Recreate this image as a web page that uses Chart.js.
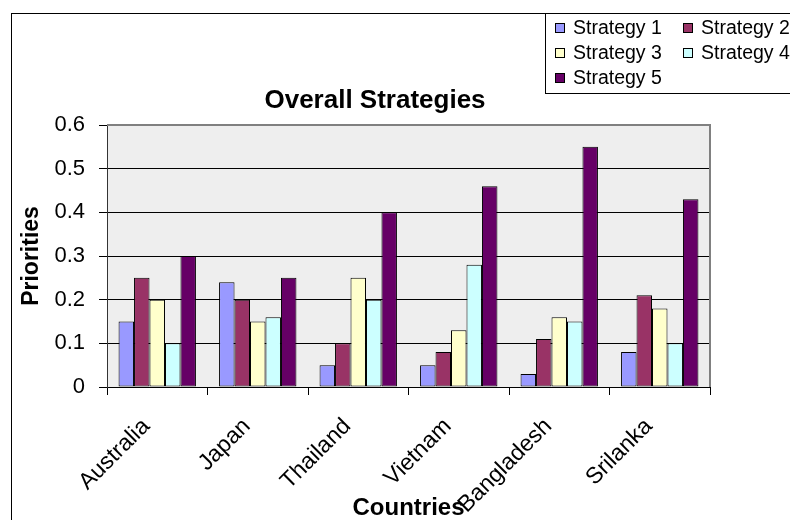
<!DOCTYPE html>
<html>
<head>
<meta charset="utf-8">
<script src="https://cdn.jsdelivr.net/npm/chart.js@4.4.1/dist/chart.umd.min.js"></script>
<style>
    html, body { margin: 0; padding: 0; background: #fff; }
</style>
</head>
<body>
<canvas id="chart" width="790" height="520"></canvas>
<script>
// data
var countries = ['Australia', 'Japan', 'Thailand', 'Vietnam', 'Bangladesh', 'Srilanka'];
var strategy1 = [0.15, 0.24, 0.05, 0.05, 0.03, 0.08];
var strategy2 = [0.25, 0.20, 0.10, 0.08, 0.11, 0.21];
var strategy3 = [0.20, 0.15, 0.25, 0.13, 0.16, 0.18];
var strategy4 = [0.10, 0.16, 0.20, 0.28, 0.15, 0.10];
var strategy5 = [0.30, 0.25, 0.40, 0.46, 0.55, 0.43];
var seriesNames = ['Strategy 1', 'Strategy 2', 'Strategy 3', 'Strategy 4', 'Strategy 5'];
var seriesColors = ['#9999FF', '#993366', '#FFFFCC', '#CCFFFF', '#660066'];
var yTicks = [0, 0.1, 0.2, 0.3, 0.4, 0.5, 0.6];

var FONT = "'Liberation Sans', Arial, sans-serif";
var allSeries = [strategy1, strategy2, strategy3, strategy4, strategy5];

var datasets = allSeries.map(function (values, i) {
    return {
        label: seriesNames[i],
        data: values,
        backgroundColor: seriesColors[i],
        borderColor: '#000',
        borderWidth: 1,
        borderSkipped: false,
        categoryPercentage: 0.77,
        barPercentage: 1.0
    };
});

// frame, plot background, title and the old-style legend box
var excelLook = {
    id: 'excelLook',
    beforeDraw: function (chart) {
        var ctx = chart.ctx, a = chart.chartArea;
        ctx.save();
        ctx.fillStyle = '#fff';
        ctx.fillRect(0, 0, chart.width, chart.height);
        ctx.strokeStyle = '#000';
        ctx.lineWidth = 1;
        ctx.strokeRect(11.5, 13.5, chart.width + 10, chart.height + 10);
        ctx.fillStyle = '#EEEEEE';
        ctx.fillRect(a.left, a.top, a.right - a.left, a.bottom - a.top);
        ctx.restore();
    },
    afterDraw: function (chart) {
        var ctx = chart.ctx, a = chart.chartArea;
        ctx.save();
        // plot border top / right
        ctx.strokeStyle = '#808080';
        ctx.lineWidth = 2;
        ctx.beginPath();
        ctx.moveTo(a.left, a.top);
        ctx.lineTo(a.right, a.top);
        ctx.lineTo(a.right, a.bottom);
        ctx.stroke();

        // title
        ctx.fillStyle = '#000';
        ctx.font = 'bold 26px ' + FONT;
        ctx.textAlign = 'center';
        ctx.textBaseline = 'middle';
        ctx.fillText('Overall Strategies', 375, 101);

        // legend
        ctx.fillStyle = '#fff';
        ctx.fillRect(545.5, 13.5, 260, 80);
        ctx.strokeStyle = '#000';
        ctx.lineWidth = 1;
        ctx.strokeRect(545.5, 13.5, 260, 80);
        ctx.font = '19.5px ' + FONT;
        ctx.textAlign = 'left';
        chart.data.datasets.forEach(function (ds, i) {
            var col = i % 2, row = Math.floor(i / 2);
            var x = col === 0 ? 555 : 683;
            var y = 28 + row * 25;
            ctx.fillStyle = ds.backgroundColor;
            ctx.fillRect(x + 0.5, y - 4.5, 9, 9);
            ctx.strokeRect(x + 0.5, y - 4.5, 9, 9);
            ctx.fillStyle = '#000';
            ctx.fillText(ds.label, x + 18, y + 1);
        });
        ctx.restore();
    }
};

new Chart(document.getElementById('chart'), {
    type: 'bar',
    data: {
        labels: countries,
        datasets: datasets
    },
    options: {
        responsive: false,
        animation: false,
        layout: {
            padding: { top: 125, right: 80, left: 0, bottom: 0 }
        },
        plugins: {
            legend: { display: false },
            title: { display: false },
            tooltip: { enabled: false }
        },
        scales: {
            x: {
                afterFit: function (scale) { scale.height = 133; },
                grid: {
                    drawOnChartArea: false,
                    drawTicks: true,
                    tickLength: 8,
                    color: '#000'
                },
                border: { display: true, color: '#000', width: 1 },
                ticks: {
                    autoSkip: false,
                    minRotation: 45,
                    maxRotation: 45,
                    padding: 18,
                    labelOffset: -11,
                    color: '#000',
                    font: { family: FONT, size: 23 }
                },
                title: {
                    display: true,
                    text: 'Countries',
                    color: '#000',
                    font: { family: FONT, size: 24, weight: 'bold' },
                    padding: { top: 0, bottom: -3 }
                }
            },
            y: {
                min: 0,
                max: 0.6,
                afterFit: function (scale) { scale.width = 107; },
                afterBuildTicks: function (scale) {
                    scale.ticks = yTicks.map(function (v) { return { value: v }; });
                },
                grid: {
                    color: '#000',
                    tickLength: 8,
                    drawTicks: true
                },
                border: { display: true, color: '#333', width: 1 },
                ticks: {
                    padding: 14,
                    color: '#000',
                    font: { family: FONT, size: 22 },
                    callback: function (v) { return v === 0 ? '0' : v.toFixed(1); }
                },
                title: {
                    display: true,
                    text: 'Priorities',
                    color: '#000',
                    font: { family: FONT, size: 23, weight: 'bold' },
                    padding: { top: 18, bottom: 0 }
                }
            }
        }
    },
    plugins: [excelLook]
});
</script>
</body>
</html>
